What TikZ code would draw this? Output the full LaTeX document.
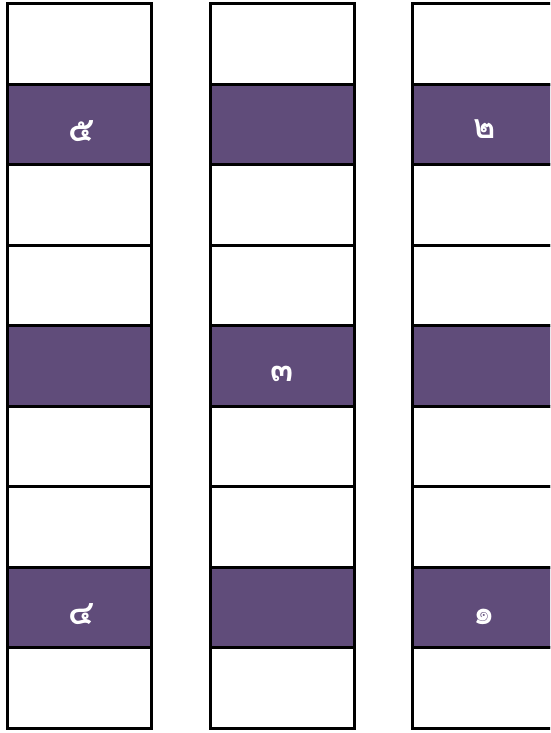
\documentclass[tikz,border=0pt]{standalone}
\usepackage{fontspec}
\newfontfamily\thaifont[Script=Thai]{Loma}
\usepackage{xcolor}
\usepackage{tikz}
\usetikzlibrary{positioning}
\definecolor{plum}{RGB}{96,76,122}

\begin{document}
\begin{tikzpicture}[x=1pt, y=1pt,
  cell/.style={draw=black, line width=3pt, minimum width=144pt, minimum height=80.5pt, inner sep=0pt, outer sep=0pt},
  hot/.style={cell, fill=plum},
  num/.style={text=white, inner sep=0pt, font=\thaifont\bfseries\fontsize{34}{34}\selectfont}]
\useasboundingbox (0,0) rectangle (550,733);
\clip (0,0) rectangle (550,733);
% left column
\node[cell] (a1) at (79.5,688.75) {};
\node[hot, below=0pt of a1] (a2) {};
\node[cell, below=0pt of a2] (a3) {};
\node[cell, below=0pt of a3] (a4) {};
\node[hot, below=0pt of a4] (a5) {};
\node[cell, below=0pt of a5] (a6) {};
\node[cell, below=0pt of a6] (a7) {};
\node[hot, below=0pt of a7] (a8) {};
\node[cell, below=0pt of a8] (a9) {};
% middle column
\node[cell] (b1) at (282.5,688.75) {};
\node[hot, below=0pt of b1] (b2) {};
\node[cell, below=0pt of b2] (b3) {};
\node[cell, below=0pt of b3] (b4) {};
\node[hot, below=0pt of b4] (b5) {};
\node[cell, below=0pt of b5] (b6) {};
\node[cell, below=0pt of b6] (b7) {};
\node[hot, below=0pt of b7] (b8) {};
\node[cell, below=0pt of b8] (b9) {};
% right column, cut by the page edge
\node[cell] (c1) at (484.5,688.75) {};
\node[hot, below=0pt of c1] (c2) {};
\node[cell, below=0pt of c2] (c3) {};
\node[cell, below=0pt of c3] (c4) {};
\node[hot, below=0pt of c4] (c5) {};
\node[cell, below=0pt of c5] (c6) {};
\node[cell, below=0pt of c6] (c7) {};
\node[hot, below=0pt of c7] (c8) {};
\node[cell, below=0pt of c8] (c9) {};
% digits, set a little below the middle of their cells
\node[num] (n5) at ([xshift=2pt, yshift=-6pt]a2.center) {๕};
\node[num] (n4) at ([xshift=2pt, yshift=-6pt]a8.center) {๔};
\node[num] (n3) at ([yshift=-8pt]b5.center) {๓};
\node[num] (n2) at ([yshift=-4pt]c2.center) {๒};
\node[num] (n1) at ([yshift=-9pt]c8.center) {๑};
\end{tikzpicture}
\end{document}
